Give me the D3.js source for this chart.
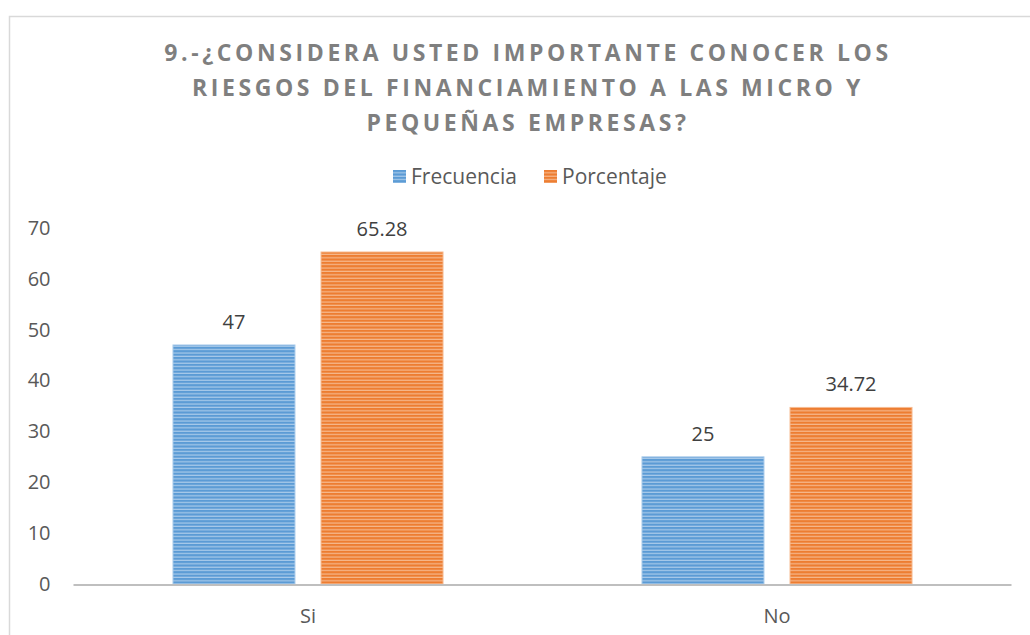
<!DOCTYPE html>
<html>
  <head>
    <meta charset="UTF-8" />
    <title>Riesgos del financiamiento</title>
    <style>
      body { margin: 0; background: #fff; }
      text { font-family: "Open Sans", "Noto Sans", sans-serif; }
    </style>
    <script src="https://d3js.org/d3.v7.min.js"></script>
  </head>
  <body>
    <svg id="viz" width="1030" height="635"></svg>
    <script>
      var categories = ["Si", "No"];
      var seriesNames = ["Frecuencia", "Porcentaje"];
      var frecuencia = [47, 25];
      var porcentaje = [65.28, 34.72];
      var yTicks = [0, 10, 20, 30, 40, 50, 60, 70];
      var titleLines = [
        "9.-¿CONSIDERA USTED IMPORTANTE CONOCER LOS",
        "RIESGOS DEL FINANCIAMIENTO A LAS MICRO Y",
        "PEQUEÑAS EMPRESAS?"
      ];

      var colors = { Frecuencia: ["#5b9bd5", "#a9cbea"], Porcentaje: ["#ed7d31", "#f6b98e"] };

      var svg = d3.select("#viz");
      var width = 1030, height = 635;
      var margin = { left: 73.5, right: 18.5, top: 228, bottom: 51 };

      // chart frame
      svg.append("path")
        .attr("d", "M9.5," + height + "V16.5H" + width)
        .attr("fill", "none")
        .attr("stroke", "#d9d9d9")
        .attr("stroke-width", 1.5);

      // stripe patterns
      var defs = svg.append("defs");
      seriesNames.forEach(function (s) {
        var p = defs.append("pattern")
          .attr("id", "pat-" + s)
          .attr("patternUnits", "userSpaceOnUse")
          .attr("width", 8).attr("height", 3.4);
        p.append("rect").attr("width", 8).attr("height", 3.4).attr("fill", colors[s][1]);
        p.append("rect").attr("width", 8).attr("height", 2.2).attr("fill", colors[s][0]);
      });

      var x = d3.scaleBand().domain(categories)
        .range([margin.left, width - margin.right]);
      var x1 = d3.scaleBand().domain(seriesNames)
        .range([0, x.bandwidth()]).paddingInner(0.176).paddingOuter(0.672);
      var y = d3.scaleLinear().domain([0, 70])
        .range([height - margin.bottom, margin.top]);

      // title
      svg.append("text")
        .attr("text-anchor", "middle")
        .attr("fill", "#7f7f7f")
        .attr("font-size", 23)
        .attr("font-weight", "bold")
        .attr("letter-spacing", 3.6)
        .selectAll("tspan").data(titleLines).join("tspan")
        .attr("x", 528).attr("y", function (d, i) { return 61 + i * 35; })
        .text(function (d) { return d; });

      // legend
      var legend = svg.append("g");
      var legendX = [393, 544];
      seriesNames.forEach(function (s, i) {
        legend.append("rect")
          .attr("x", legendX[i]).attr("y", 170)
          .attr("width", 13).attr("height", 13)
          .attr("fill", "url(#pat-" + s + ")");
        legend.append("text")
          .attr("x", legendX[i] + 18).attr("y", 184)
          .attr("font-size", 21).attr("fill", "#595959")
          .text(s);
      });

      // y axis labels
      var yAxis = svg.append("g")
        .attr("transform", "translate(" + (margin.left - 23) + ",0)")
        .call(d3.axisLeft(y).tickValues(yTicks).tickSize(0).tickPadding(0));
      yAxis.select(".domain").remove();
      yAxis.selectAll("text")
        .attr("font-size", 20)
        .attr("fill", "#595959")
        .style("font-family", "'Open Sans', 'Noto Sans', sans-serif");

      // bars
      var rows = categories.map(function (c, i) {
        return { cat: c, vals: [frecuencia[i], porcentaje[i]] };
      });
      var groups = svg.selectAll(".grp").data(rows).join("g")
        .attr("transform", function (d) { return "translate(" + x(d.cat) + ",0)"; });

      groups.selectAll("rect").data(function (d) {
        return d.vals.map(function (v, j) { return { s: seriesNames[j], v: v }; });
      }).join("rect")
        .attr("x", function (d) { return x1(d.s); })
        .attr("y", function (d) { return y(d.v); })
        .attr("width", x1.bandwidth())
        .attr("height", function (d) { return y(0) - y(d.v); })
        .attr("fill", function (d) { return "url(#pat-" + d.s + ")"; })
        .attr("stroke", function (d) { return colors[d.s][1]; })
        .attr("stroke-width", 1);

      groups.selectAll(".lbl").data(function (d) {
        return d.vals.map(function (v, j) { return { s: seriesNames[j], v: v }; });
      }).join("text")
        .attr("class", "lbl")
        .attr("x", function (d) { return x1(d.s) + x1.bandwidth() / 2; })
        .attr("y", function (d) { return y(d.v) - 16; })
        .attr("text-anchor", "middle")
        .attr("font-size", 20)
        .attr("fill", "#404040")
        .text(function (d) { return d.v; });

      // x axis
      svg.append("line")
        .attr("x1", margin.left).attr("x2", width - margin.right)
        .attr("y1", y(0) + 1).attr("y2", y(0) + 1)
        .attr("stroke", "#bfbfbf").attr("stroke-width", 2);

      var xAxis = svg.append("g")
        .attr("transform", "translate(0," + (y(0) + 20) + ")")
        .call(d3.axisBottom(x).tickSize(0).tickPadding(0));
      xAxis.select(".domain").remove();
      xAxis.selectAll("text")
        .attr("font-size", 20)
        .attr("fill", "#595959")
        .attr("dy", "0.95em")
        .style("font-family", "'Open Sans', 'Noto Sans', sans-serif");
    </script>
  </body>
</html>
